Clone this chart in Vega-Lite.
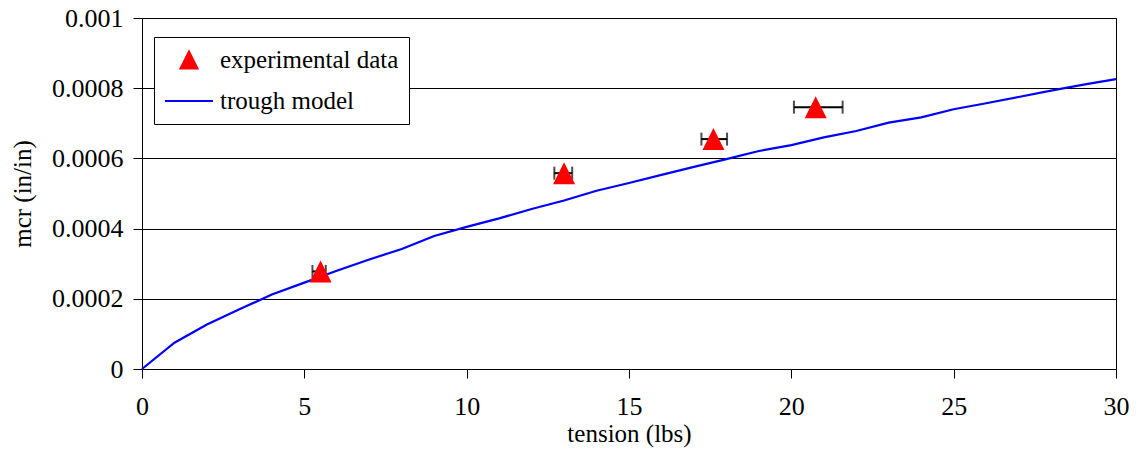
{
  "$schema": "https://vega.github.io/schema/vega-lite/v6.json",
  "width": 974,
  "height": 351,
  "autosize": {"type": "none"},
  "padding": {"left": 142, "top": 18, "right": 26, "bottom": 80},
  "background": "white",
  "config": {
    "font": "Liberation Serif, Tinos, Nimbus Roman, FreeSerif, Noto Serif, DejaVu Serif, Times, serif",
    "view": {"stroke": "black", "strokeWidth": 1},
    "axis": {
      "labelFont": "Liberation Serif, Tinos, Nimbus Roman, FreeSerif, Noto Serif, DejaVu Serif, Times, serif",
      "labelFontSize": 26,
      "labelColor": "black",
      "titleFont": "Liberation Serif, Tinos, Nimbus Roman, FreeSerif, Noto Serif, DejaVu Serif, Times, serif",
      "titleFontSize": 25,
      "titleFontWeight": "normal",
      "titleColor": "black",
      "domainColor": "black",
      "domainWidth": 1,
      "tickColor": "black",
      "tickWidth": 1,
      "tickSize": 9,
      "gridColor": "black",
      "gridWidth": 1,
      "gridOpacity": 1
    }
  },
  "datasets": {
    "model": [
      {"tension": 0, "mcr": 0},
      {"tension": 1, "mcr": 0.000075},
      {"tension": 2, "mcr": 0.000127},
      {"tension": 3, "mcr": 0.00017},
      {"tension": 4, "mcr": 0.000212},
      {"tension": 5, "mcr": 0.000246},
      {"tension": 6, "mcr": 0.00028},
      {"tension": 7, "mcr": 0.000312},
      {"tension": 8, "mcr": 0.000342},
      {"tension": 9, "mcr": 0.000379},
      {"tension": 10, "mcr": 0.000405},
      {"tension": 11, "mcr": 0.000429},
      {"tension": 12, "mcr": 0.000456},
      {"tension": 13, "mcr": 0.00048},
      {"tension": 14, "mcr": 0.000508},
      {"tension": 15, "mcr": 0.00053},
      {"tension": 16, "mcr": 0.000553},
      {"tension": 17, "mcr": 0.000576},
      {"tension": 18, "mcr": 0.000598},
      {"tension": 19, "mcr": 0.000621},
      {"tension": 20, "mcr": 0.000638},
      {"tension": 21, "mcr": 0.00066},
      {"tension": 22, "mcr": 0.000678},
      {"tension": 23, "mcr": 0.000702},
      {"tension": 24, "mcr": 0.000717},
      {"tension": 25, "mcr": 0.00074},
      {"tension": 26, "mcr": 0.000757},
      {"tension": 27, "mcr": 0.000775},
      {"tension": 28, "mcr": 0.000793},
      {"tension": 29, "mcr": 0.00081},
      {"tension": 30, "mcr": 0.000826}
    ],
    "exp": [
      {"tension": 5.5, "mcr": 0.000278, "lo": 5.25, "hi": 5.66},
      {"tension": 13.0, "mcr": 0.000558, "lo": 12.7, "hi": 13.25},
      {"tension": 17.6, "mcr": 0.000655, "lo": 17.23, "hi": 18.02},
      {"tension": 20.75, "mcr": 0.000746, "lo": 20.08, "hi": 21.58}
    ]
  },
  "layer": [
    {
      "data": {"name": "model"},
      "mark": {"type": "line", "strokeWidth": 2.2},
      "encoding": {
        "x": {
          "field": "tension", "type": "quantitative", "title": "tension (lbs)",
          "scale": {"domain": [0, 30], "nice": false, "zero": false},
          "axis": {"title": "tension (lbs)", "values": [0, 5, 10, 15, 20, 25, 30], "grid": false, "labelPadding": 15, "titlePadding": 2, "labelFlush": false}
        },
        "y": {
          "field": "mcr", "type": "quantitative", "title": "mcr (in/in)",
          "scale": {"domain": [0, 0.001], "nice": false},
          "axis": {"title": "mcr (in/in)", "values": [0, 0.0002, 0.0004, 0.0006, 0.0008, 0.001], "format": "~g", "grid": true, "labelPadding": 10, "titlePadding": 16, "labelFlush": false}
        },
        "color": {
          "datum": "trough model",
          "scale": {"domain": ["experimental data", "trough model"], "range": ["#ff0000", "#0000ff"]},
          "legend": {
            "orient": "none",
            "legendX": 12,
            "legendY": 19,
            "title": null,
            "strokeColor": "black",
            "fillColor": "white",
            "padding": 10,
            "labelFont": "Liberation Serif, Tinos, Nimbus Roman, FreeSerif, Noto Serif, DejaVu Serif, Times, serif",
            "labelFontSize": 25,
            "labelColor": "black",
            "labelLimit": 400,
            "symbolSize": 576,
            "labelOffset": 30,
            "rowPadding": 15,
            "encode": {
              "symbols": {
                "update": {
                  "x": {"value": 25},
                  "shape": {"signal": "datum.value === 'experimental data' ? 'M-0.71,0.71L0,-0.71L0.71,0.71Z' : 'M-2,0L2,0'"},
                  "size": {"value": 576},
                  "fill": {"signal": "datum.value === 'experimental data' ? '#ff0000' : 'transparent'"},
                  "stroke": {"signal": "datum.value === 'experimental data' ? 'transparent' : '#0000ff'"},
                  "strokeWidth": {"value": 2}
                }
              }
            }
          }
        }
      }
    },
    {
      "data": {"name": "exp"},
      "mark": {"type": "errorbar", "color": "black", "thickness": 2, "ticks": {"size": 13, "thickness": 2, "color": "black"}},
      "encoding": {
        "x": {"field": "lo", "type": "quantitative", "title": "tension (lbs)"},
        "x2": {"field": "hi"},
        "y": {"field": "mcr", "type": "quantitative", "title": "mcr (in/in)"}
      }
    },
    {
      "data": {"name": "exp"},
      "mark": {"type": "point", "filled": true, "shape": "M-1,1L0,-1L1,1Z", "size": 484, "opacity": 1},
      "encoding": {
        "x": {"field": "tension", "type": "quantitative", "title": "tension (lbs)"},
        "y": {"field": "mcr", "type": "quantitative", "title": "mcr (in/in)"},
        "color": {"datum": "experimental data"}
      }
    }
  ]
}
